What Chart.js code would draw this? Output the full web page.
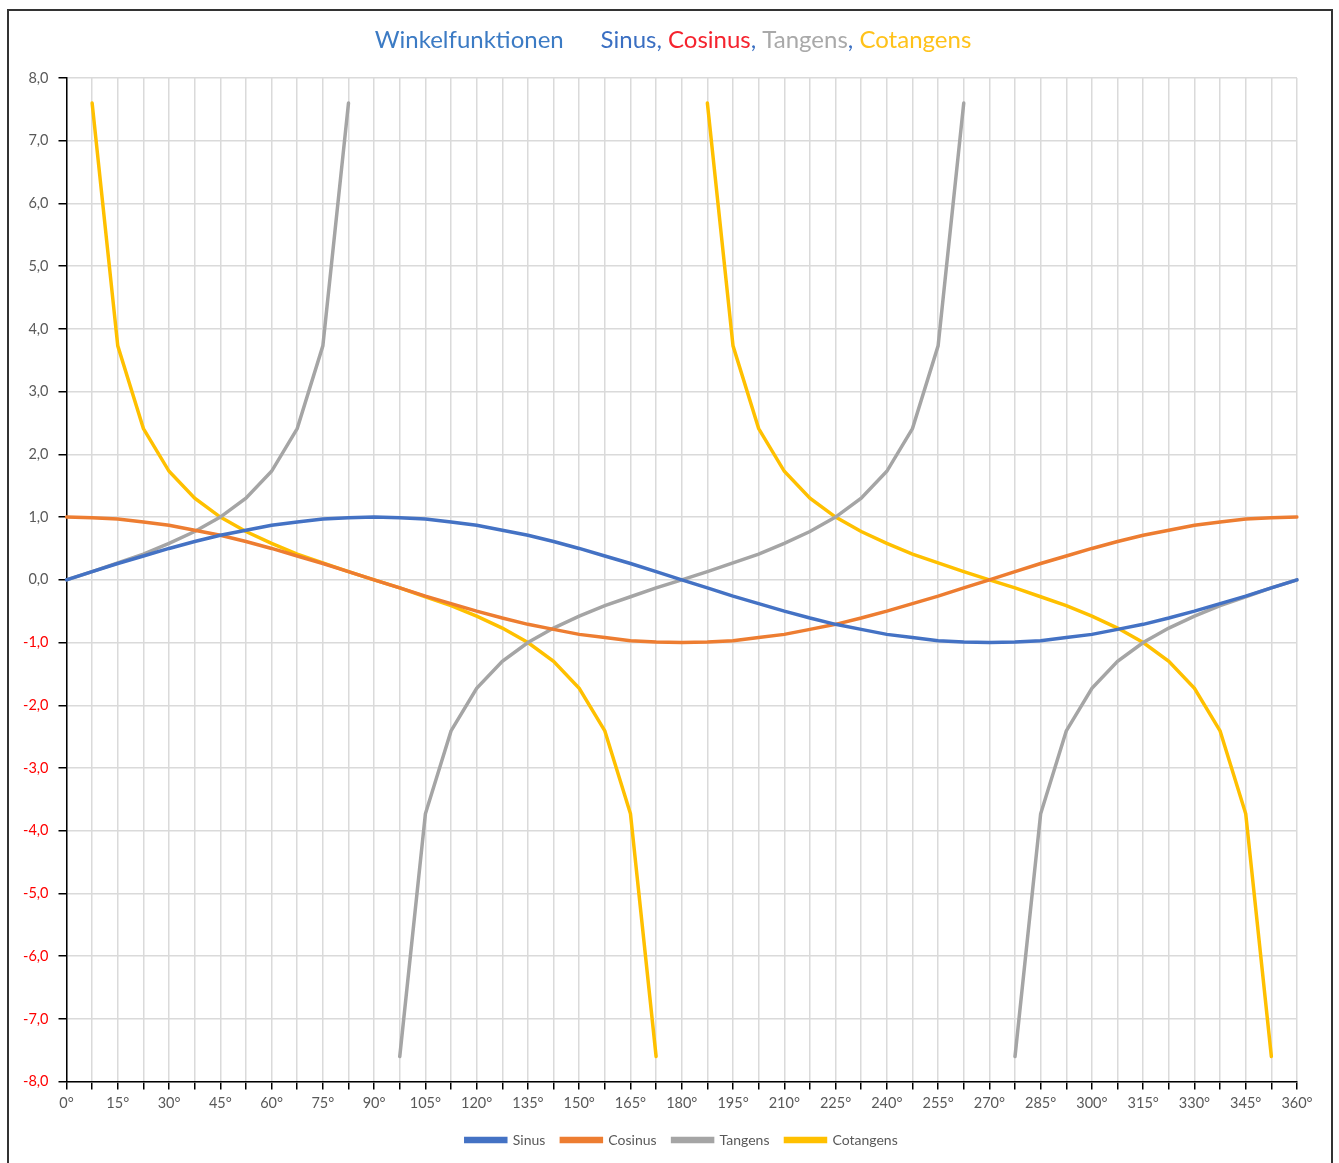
<!DOCTYPE html>
<html>
<head>
<meta charset="utf-8">
<script src="https://cdn.jsdelivr.net/npm/chart.js@4"></script>
<style>
  body { margin: 0; background: #fff; }
  #wrap { position: absolute; left: 0; top: 0; width: 1339px; height: 1163px; }
  #frame { position: absolute; left: 7px; top: 9px; width: 1326px; height: 1170px; border: 2px solid #333; box-sizing: border-box; }
</style>
</head>
<body>
<div id="frame"></div>
<div id="wrap"><canvas id="myChart"></canvas></div>
<script>
// Winkel in 7,5°-Schritten
const winkel = ['0°', '7,5°', '15°', '22,5°', '30°', '37,5°', '45°', '52,5°', '60°', '67,5°', '75°', '82,5°',
  '90°', '97,5°', '105°', '112,5°', '120°', '127,5°', '135°', '142,5°', '150°', '157,5°', '165°', '172,5°',
  '180°', '187,5°', '195°', '202,5°', '210°', '217,5°', '225°', '232,5°', '240°', '247,5°', '255°', '262,5°',
  '270°', '277,5°', '285°', '292,5°', '300°', '307,5°', '315°', '322,5°', '330°', '337,5°', '345°', '352,5°', '360°'];

const sinus = [0, 0.13, 0.26, 0.38, 0.5, 0.61, 0.71, 0.79, 0.87, 0.92, 0.97, 0.99,
  1, 0.99, 0.97, 0.92, 0.87, 0.79, 0.71, 0.61, 0.5, 0.38, 0.26, 0.13,
  0, -0.13, -0.26, -0.38, -0.5, -0.61, -0.71, -0.79, -0.87, -0.92, -0.97, -0.99,
  -1, -0.99, -0.97, -0.92, -0.87, -0.79, -0.71, -0.61, -0.5, -0.38, -0.26, -0.13, 0];

const cosinus = [1, 0.99, 0.97, 0.92, 0.87, 0.79, 0.71, 0.61, 0.5, 0.38, 0.26, 0.13,
  0, -0.13, -0.26, -0.38, -0.5, -0.61, -0.71, -0.79, -0.87, -0.92, -0.97, -0.99,
  -1, -0.99, -0.97, -0.92, -0.87, -0.79, -0.71, -0.61, -0.5, -0.38, -0.26, -0.13,
  0, 0.13, 0.26, 0.38, 0.5, 0.61, 0.71, 0.79, 0.87, 0.92, 0.97, 0.99, 1];

const tangens = [0, 0.13, 0.27, 0.41, 0.58, 0.77, 1, 1.3, 1.73, 2.41, 3.73, 7.6,
  null, -7.6, -3.73, -2.41, -1.73, -1.3, -1, -0.77, -0.58, -0.41, -0.27, -0.13,
  0, 0.13, 0.27, 0.41, 0.58, 0.77, 1, 1.3, 1.73, 2.41, 3.73, 7.6,
  null, -7.6, -3.73, -2.41, -1.73, -1.3, -1, -0.77, -0.58, -0.41, -0.27, -0.13, 0];

const cotangens = [null, 7.6, 3.73, 2.41, 1.73, 1.3, 1, 0.77, 0.58, 0.41, 0.27, 0.13,
  0, -0.13, -0.27, -0.41, -0.58, -0.77, -1, -1.3, -1.73, -2.41, -3.73, -7.6,
  null, 7.6, 3.73, 2.41, 1.73, 1.3, 1, 0.77, 0.58, 0.41, 0.27, 0.13,
  0, -0.13, -0.27, -0.41, -0.58, -0.77, -1, -1.3, -1.73, -2.41, -3.73, -7.6, null];

const titelTeile = [
  ['Winkelfunktionen', '#3c7bc4'],
  ['      ', '#3c7bc4'],
  ['Sinus', '#3a6fc2'],
  [', ', '#3a6fc2'],
  ['Cosinus', '#f5232e'],
  [', ', '#3a6fc2'],
  ['Tangens', '#a9a9a9'],
  [', ', '#3a6fc2'],
  ['Cotangens', '#ffc21a']
];

const fontName = 'Lato, "Open Sans", sans-serif';
const grau = '#595959';

// bunter Titel (Chart.js kann nur eine Farbe pro Titel)
const buntTitel = {
  id: 'buntTitel',
  afterDraw(chart) {
    const c = chart.ctx;
    c.save();
    c.font = '24px ' + fontName;
    c.textBaseline = 'middle';
    let breite = 0;
    titelTeile.forEach(t => { breite += c.measureText(t[0]).width; });
    let x = 673 - breite / 2;
    titelTeile.forEach(t => {
      c.fillStyle = t[1];
      c.fillText(t[0], x, 40);
      x += c.measureText(t[0]).width;
    });
    c.restore();
  }
};

const ctx = document.getElementById('myChart');

new Chart(ctx, {
  type: 'line',
  data: {
    labels: winkel,
    datasets: [
      { label: 'Sinus', data: sinus, borderColor: '#4472c4', backgroundColor: '#4472c4' },
      { label: 'Cosinus', data: cosinus, borderColor: '#ed7d31', backgroundColor: '#ed7d31' },
      { label: 'Tangens', data: tangens, borderColor: '#a5a5a5', backgroundColor: '#a5a5a5' },
      { label: 'Cotangens', data: cotangens, borderColor: '#ffc000', backgroundColor: '#ffc000' }
    ]
  },
  options: {
    responsive: true,
    maintainAspectRatio: false,
    animation: false,
    spanGaps: false,
    elements: {
      point: { radius: 0 },
      line: { borderWidth: 3.5, tension: 0, borderCapStyle: 'round' }
    },
    layout: {
      padding: { left: 13, right: 42, top: 78, bottom: 6 }
    },
    plugins: {
      title: { display: false },
      tooltip: { enabled: false },
      legend: {
        position: 'bottom',
        fullSize: false,
        labels: {
          boxWidth: 40,
          boxHeight: 3,
          color: grau,
          padding: 16,
          font: { family: fontName, size: 14 }
        }
      }
    },
    scales: {
      x: {
        grid: { color: '#dadada', tickColor: '#000', tickLength: 8, lineWidth: 1.5 },
        border: { color: '#000', width: 1.5 },
        ticks: {
          autoSkip: false,
          maxRotation: 0,
          color: grau,
          padding: 5,
          font: { family: fontName, size: 14.5 },
          callback: (v, i) => (i % 2 === 0 ? winkel[i] : '')
        }
      },
      y: {
        min: -8,
        max: 8,
        grid: { color: '#dadada', tickColor: '#000', tickLength: 8, lineWidth: 1.5 },
        border: { color: '#000', width: 1.5 },
        ticks: {
          stepSize: 1,
          color: c => (c.tick && c.tick.value < 0 ? '#ff0000' : grau),
          padding: 10,
          font: { family: fontName, size: 14.5 },
          callback: v => v.toFixed(1).replace('.', ',')
        }
      }
    }
  },
  plugins: [buntTitel]
});
</script>
</body>
</html>
